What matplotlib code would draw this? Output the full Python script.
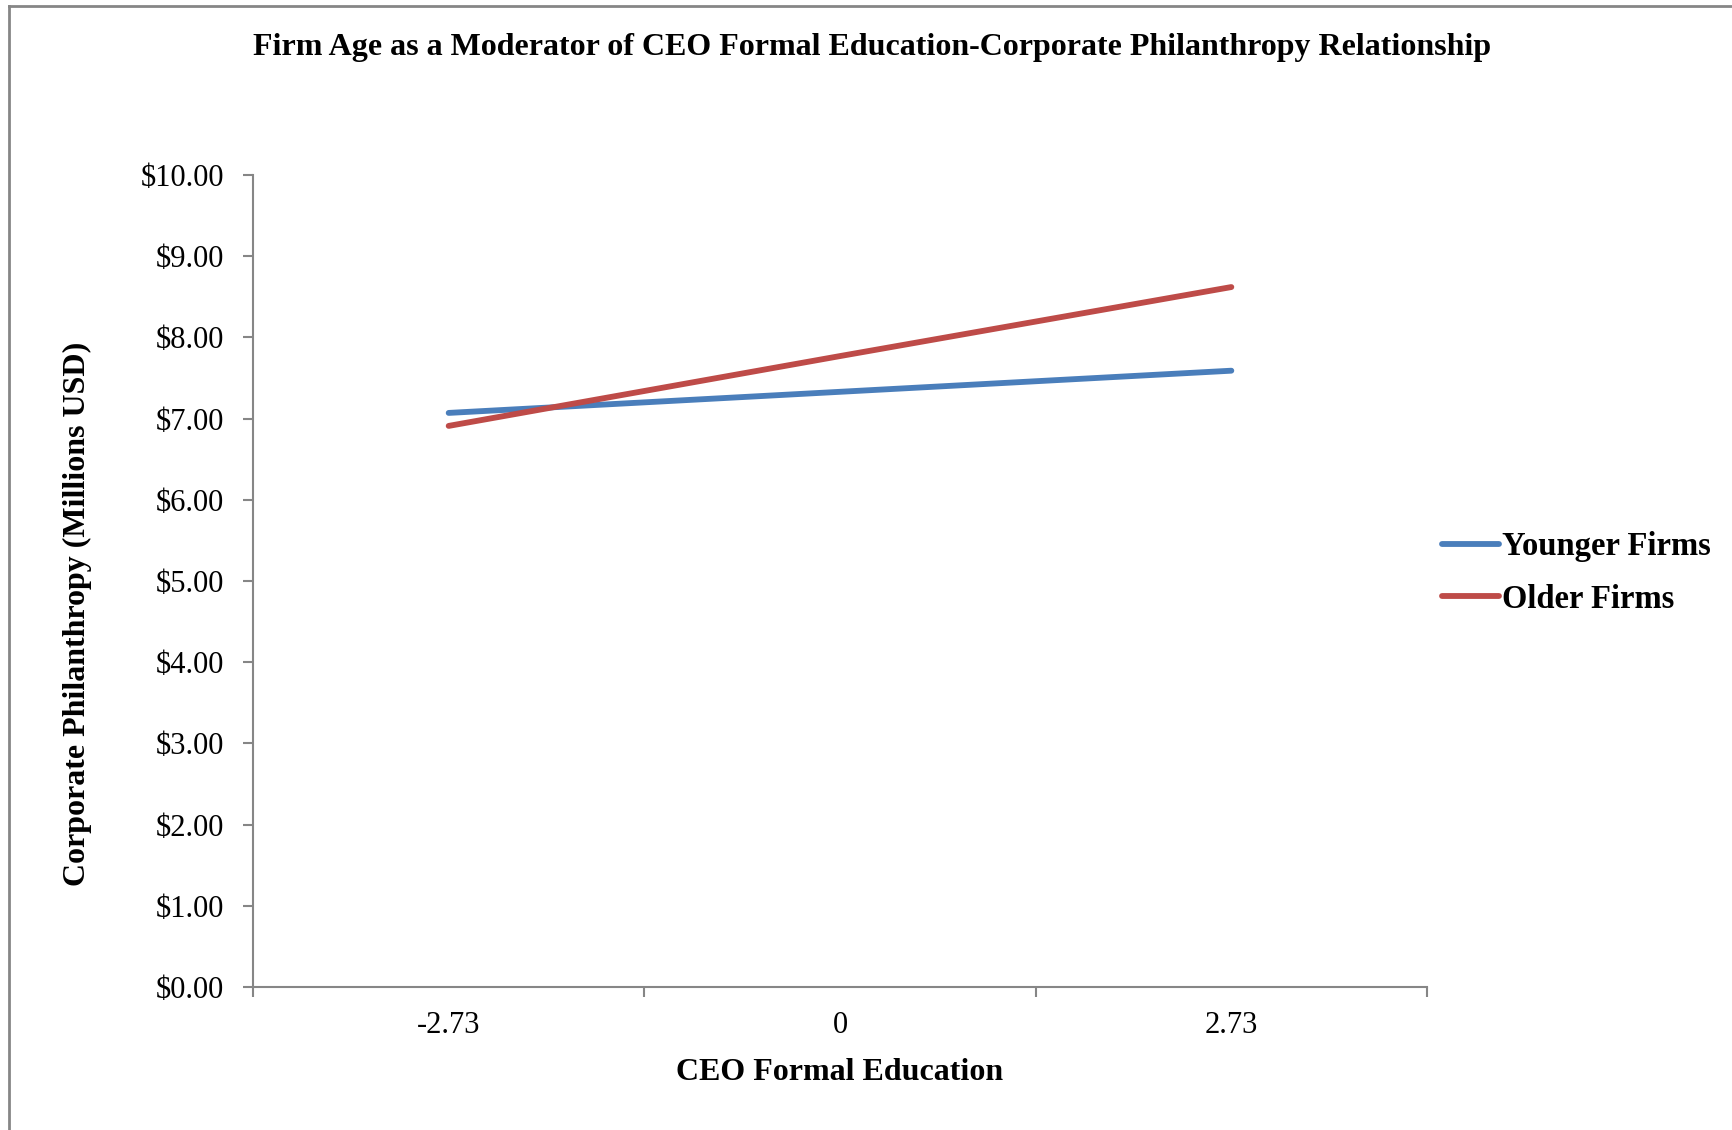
import matplotlib.pyplot as plt
from matplotlib.lines import Line2D

plt.rcParams['font.family'] = ['Liberation Serif', 'DejaVu Serif']

# Data
categories = ['-2.73', '0', '2.73']
younger = [7.07, 7.33, 7.59]
older = [6.91, 7.77, 8.62]
y_ticks = [0, 1, 2, 3, 4, 5, 6, 7, 8, 9, 10]

W, H = 1732, 1130
fig = plt.figure(figsize=(W / 100, H / 100), dpi=100)

# axes box in pixels: left 253, right 1427, top 175, bottom 987
ax = fig.add_axes([253 / W, 1 - 987 / H, (1427 - 253) / W, (987 - 175) / H])

x = range(len(categories))
ax.plot(x, younger, color='#4a7ebb', lw=4.2, solid_capstyle='round', label='Younger Firms')
ax.plot(x, older, color='#be4b48', lw=4.2, solid_capstyle='round', label='Older Firms')

ax.set_xlim(-0.5, 2.5)
ax.set_ylim(0, 10)
ax.set_yticks(y_ticks)
ax.set_yticklabels(['${:.2f}'.format(v) for v in y_ticks])
ax.set_xticks(x)
ax.set_xticklabels(categories)
ax.set_xticks([-0.5, 0.5, 1.5, 2.5], minor=True)

gray = '#868686'
for s in ['top', 'right']:
    ax.spines[s].set_visible(False)
for s in ['left', 'bottom']:
    ax.spines[s].set_color(gray)
    ax.spines[s].set_linewidth(1.5)

ax.tick_params(axis='y', length=7, width=1.5, color=gray, labelsize=22, pad=14)
ax.tick_params(axis='x', which='major', length=0, labelsize=22, pad=17)
ax.tick_params(axis='x', which='minor', length=7, width=1.5, color=gray)

ax.set_xlabel('CEO Formal Education', fontsize=23, fontweight='bold', labelpad=13)
ax.set_ylabel('Corporate Philanthropy (Millions USD)', fontsize=23, fontweight='bold')
ax.yaxis.set_label_coords(-0.137, 0.46)

fig.text(872 / W, 1 - 48 / H, 'Firm Age as a Moderator of CEO Formal Education-Corporate Philanthropy Relationship',
         ha='center', va='center', fontsize=23, fontweight='bold')

leg = fig.legend(loc='center left', bbox_to_anchor=(1413 / W, 1 - 573 / H), frameon=False,
                 prop={'size': 23.5, 'weight': 'bold'}, handlelength=1.72, handletextpad=0.1,
                 labelspacing=0.65)

# outer frame (top and left edges only)
fig.add_artist(Line2D([9 / W, 9 / W], [0, 1 - 6 / H], color=gray, lw=2))
fig.add_artist(Line2D([9 / W, 1], [1 - 6 / H, 1 - 6 / H], color=gray, lw=2))

fig.savefig('out.png', dpi=100, facecolor='white')
